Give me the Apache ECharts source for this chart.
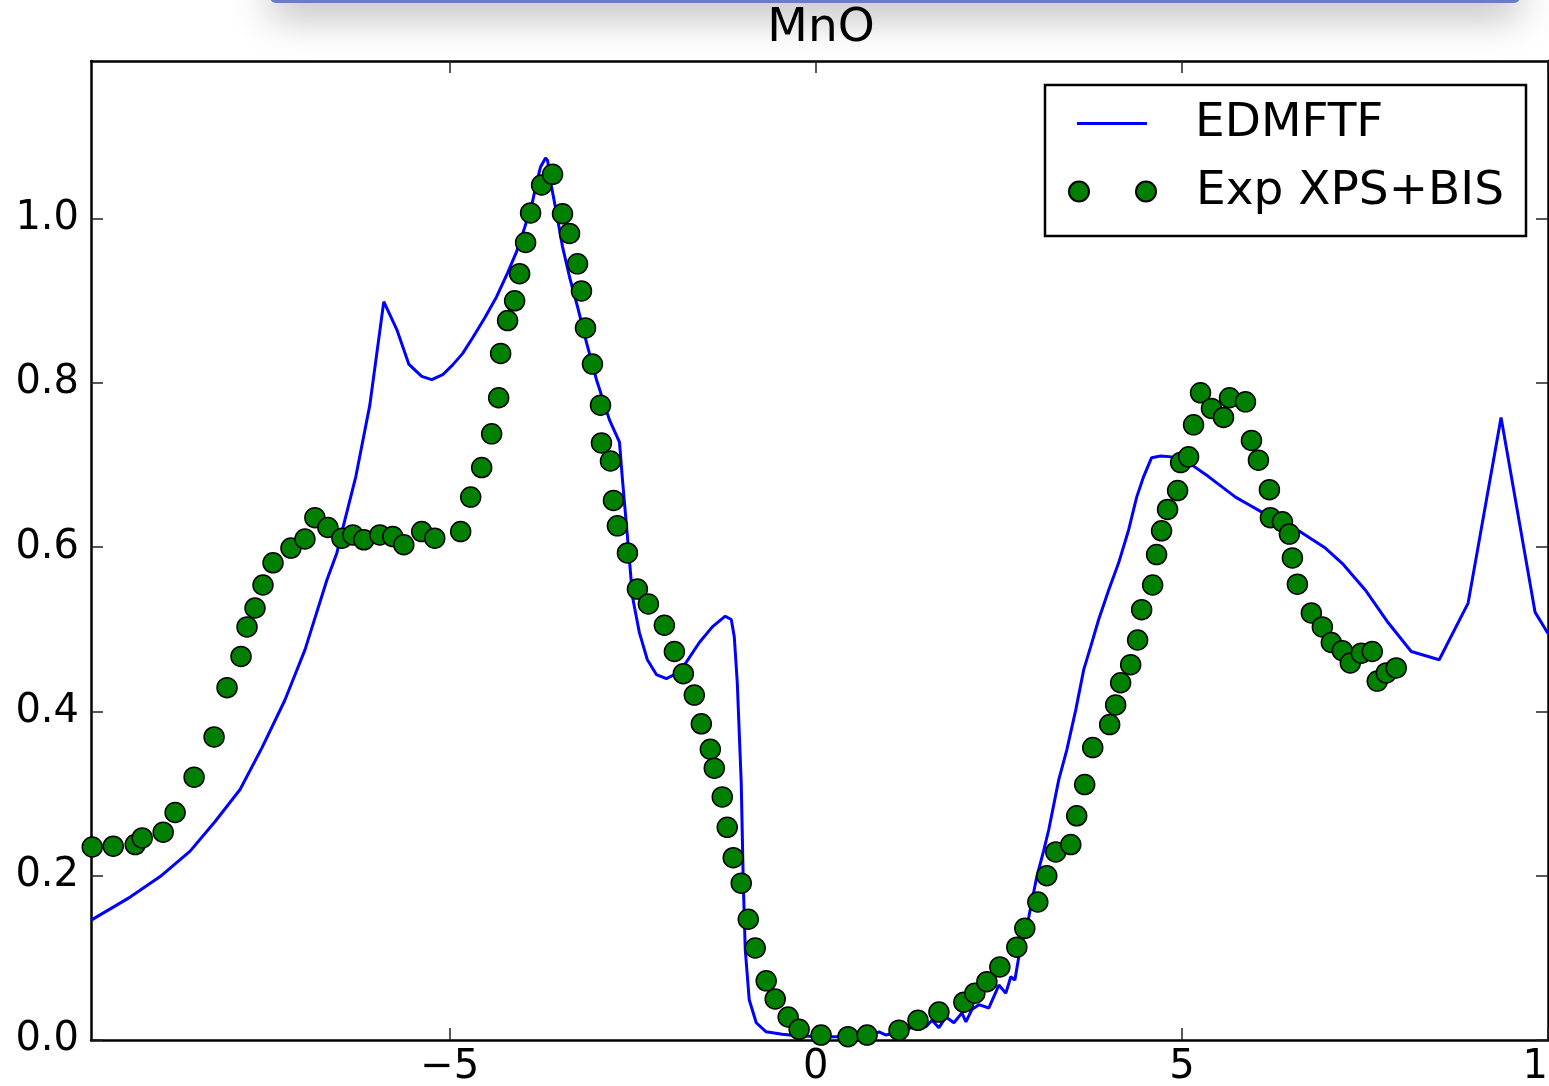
<!DOCTYPE html>
<html>
<head>
<meta charset="utf-8">
<title>MnO</title>
<script src="https://cdn.jsdelivr.net/npm/echarts@6/dist/echarts.min.js"></script>
<style>
  html, body { margin: 0; padding: 0; background: #fff; overflow: hidden; }
  #chart { width: 1549px; height: 1086px; }
</style>
</head>
<body>
<div id="chart"></div>
<script>
// EDMFTF theory curve
const edmftfX = [-9.897,-9.365,-8.955,-8.546,-8.205,-7.864,-7.564,-7.251,-6.978,-6.678,
  -6.542,-6.433,-6.283,-6.092,-5.901,-5.723,-5.560,-5.383,-5.246,-5.096,
  -4.960,-4.823,-4.687,-4.523,-4.360,-4.210,-4.087,-3.978,-3.869,-3.814,
  -3.760,-3.692,-3.664,-3.610,-3.542,-3.460,-3.364,-3.255,-3.132,-2.996,
  -2.819,-2.682,-2.641,-2.546,-2.505,-2.410,-2.301,-2.178,-2.041,-1.932,
  -1.769,-1.591,-1.414,-1.237,-1.155,-1.114,-1.073,-1.019,-0.991,-0.964,
  -0.910,-0.814,-0.678,-0.460,-0.228,0.222,0.727,0.863,0.959,1.136,
  1.313,1.504,1.586,1.681,1.777,1.886,1.995,2.050,2.131,2.227,
  2.363,2.472,2.500,2.595,2.663,2.718,2.772,2.909,3.018,3.113,
  3.181,3.318,3.427,3.550,3.659,3.754,3.863,4.000,4.136,4.272,
  4.382,4.477,4.586,4.709,4.859,5.091,5.363,5.732,5.909,6.086,
  6.359,6.632,6.959,7.204,7.504,7.818,8.132,8.514,8.909,9.359,
  9.823,10.0];
const edmftfY = [0.146,0.174,0.199,0.230,0.266,0.305,0.356,0.414,0.475,0.560,
  0.593,0.633,0.686,0.773,0.899,0.865,0.823,0.808,0.804,0.810,
  0.822,0.836,0.855,0.879,0.905,0.934,0.960,0.989,1.021,1.044,
  1.063,1.074,1.071,1.039,1.007,0.966,0.929,0.893,0.849,0.804,
  0.755,0.728,0.682,0.585,0.540,0.496,0.463,0.445,0.440,0.445,
  0.460,0.484,0.503,0.516,0.512,0.491,0.435,0.313,0.191,0.110,
  0.049,0.021,0.010,0.007,0.005,0.004,0.004,0.010,0.006,0.010,
  0.015,0.016,0.024,0.015,0.028,0.021,0.033,0.022,0.037,0.043,
  0.039,0.061,0.067,0.057,0.077,0.073,0.101,0.150,0.199,0.231,
  0.256,0.317,0.353,0.402,0.451,0.479,0.512,0.548,0.581,0.621,
  0.661,0.686,0.709,0.711,0.710,0.703,0.686,0.661,0.652,0.643,
  0.631,0.618,0.599,0.579,0.548,0.508,0.473,0.463,0.532,0.758,
  0.521,0.495];

// experimental XPS+BIS points
const expX = [-9.883,-9.596,-9.296,-9.201,-8.914,-8.751,-8.492,-8.219,-8.042,-7.851,
  -7.769,-7.660,-7.551,-7.414,-7.169,-6.978,-6.842,-6.664,-6.473,-6.323,
  -6.173,-5.955,-5.778,-5.628,-5.383,-5.205,-4.851,-4.714,-4.564,-4.428,
  -4.332,-4.305,-4.210,-4.114,-4.046,-3.964,-3.896,-3.746,-3.596,-3.460,
  -3.364,-3.255,-3.201,-3.146,-3.051,-2.941,-2.928,-2.805,-2.764,-2.710,
  -2.573,-2.437,-2.287,-2.069,-1.932,-1.810,-1.660,-1.564,-1.441,-1.387,
  -1.278,-1.210,-1.128,-1.019,-0.923,-0.828,-0.678,-0.555,-0.378,-0.228,
  0.072,0.440,0.700,1.136,1.395,1.681,2.022,2.172,2.336,2.513,
  2.745,2.854,3.032,3.154,3.277,3.482,3.563,3.672,3.782,4.013,
  4.095,4.163,4.300,4.395,4.450,4.600,4.654,4.722,4.804,4.941,
  4.982,5.091,5.159,5.254,5.404,5.568,5.650,5.868,5.950,6.045,
  6.195,6.209,6.373,6.468,6.509,6.577,6.768,6.918,7.041,7.191,
  7.300,7.450,7.600,7.668,7.791,7.927];
const expY = [0.235,0.236,0.238,0.246,0.253,0.277,0.320,0.369,0.429,0.467,
  0.503,0.526,0.554,0.581,0.599,0.610,0.636,0.624,0.611,0.615,
  0.609,0.615,0.613,0.603,0.619,0.611,0.619,0.661,0.697,0.738,
  0.782,0.836,0.876,0.900,0.933,0.971,1.007,1.041,1.054,1.006,
  0.982,0.945,0.912,0.867,0.823,0.773,0.727,0.705,0.657,0.626,
  0.593,0.549,0.531,0.505,0.473,0.446,0.420,0.385,0.354,0.331,
  0.296,0.259,0.222,0.191,0.147,0.112,0.072,0.050,0.028,0.013,
  0.006,0.004,0.006,0.012,0.024,0.034,0.046,0.057,0.071,0.089,
  0.113,0.136,0.168,0.200,0.229,0.238,0.273,0.311,0.356,0.384,
  0.408,0.435,0.457,0.487,0.524,0.554,0.591,0.620,0.646,0.669,
  0.703,0.710,0.749,0.788,0.769,0.758,0.782,0.777,0.730,0.706,
  0.670,0.636,0.631,0.616,0.587,0.555,0.520,0.503,0.484,0.474,
  0.459,0.471,0.473,0.437,0.447,0.453];

const xTicks = [-5, 0, 5, 10];
const yTicks = [0, 0.2, 0.4, 0.6, 0.8, 1.0];

const zip = (xs, ys) => xs.map((x, i) => [x, ys[i]]);
const font = "'DejaVu Sans', sans-serif";

const chart = echarts.init(document.getElementById("chart"), null, { renderer: "canvas" });

const frameLine = { show: true, onZero: false, lineStyle: { color: "#000", width: 2.5 } };
const tick = (vals) => ({
  show: true, inside: true, length: 12, customValues: vals,
  lineStyle: { color: "#222", width: 1.5 }
});

const option = {
  backgroundColor: "#fff",
  animation: false,
  title: {
    text: "MnO",
    left: 821,
    top: 5,
    padding: 0,
    textAlign: "center",
    textStyle: { fontFamily: font, fontSize: 47, fontWeight: "normal", color: "#000" }
  },
  grid: { left: 91, top: 61, width: 1457, height: 979, outerBoundsMode: "none", containLabel: false },
  xAxis: [
    {
      type: "value", min: -9.9, max: 10, position: "bottom",
      axisLine: frameLine, splitLine: { show: false },
      axisTick: tick(xTicks),
      axisLabel: {
        customValues: xTicks, margin: 8, fontFamily: font, fontSize: 40, color: "#000",
        formatter: (v) => (v < 0 ? "\u2212" + Math.abs(v) : String(v))
      }
    },
    {
      type: "value", min: -9.9, max: 10, position: "top",
      axisLine: frameLine, splitLine: { show: false },
      axisTick: tick(xTicks), axisLabel: { show: false }
    }
  ],
  yAxis: [
    {
      type: "value", min: 0, max: 1.192, position: "left",
      axisLine: frameLine, splitLine: { show: false },
      axisTick: tick(yTicks),
      axisLabel: {
        customValues: yTicks, margin: 12, fontFamily: font, fontSize: 40, color: "#000",
        formatter: (v) => v.toFixed(1)
      }
    },
    {
      type: "value", min: 0, max: 1.192, position: "right",
      axisLine: frameLine, splitLine: { show: false },
      axisTick: tick(yTicks), axisLabel: { show: false }
    }
  ],
  legend: [
    {
      data: [{ name: "EDMFTF", icon: "path://M0,0L70,0L70,3L0,3Z" }],
      left: 1077, top: 100, padding: 0, itemWidth: 70, itemHeight: 3,
      textStyle: { fontFamily: font, fontSize: 47, color: "#000", padding: [0, 0, 0, 43] },
      z: 6
    },
    {
      data: [{
        name: "Exp XPS+BIS",
        icon: "path://M0,10a10,10 0 1,0 20,0a10,10 0 1,0 -20,0M67,10a10,10 0 1,0 20,0a10,10 0 1,0 -20,0"
      }],
      left: 1068, top: 168, padding: 0, itemWidth: 87, itemHeight: 20,
      textStyle: { fontFamily: font, fontSize: 47, color: "#000", padding: [0, 0, 0, 35] },
      z: 6
    }
  ],
  graphic: [
    {
      type: "rect", z: 0,
      shape: { x: 270, y: -30, width: 1250, height: 33, r: 6 },
      style: {
        fill: "#6b7bc6",
        shadowColor: "rgba(0,0,0,0.3)", shadowBlur: 40, shadowOffsetY: 12
      }
    },
    {
      type: "rect", z: 5,
      shape: { x: 1045, y: 85, width: 481, height: 151 },
      style: { fill: "#fff", stroke: "#000", lineWidth: 2.5 }
    }
  ],
  series: [
    {
      name: "EDMFTF",
      type: "line",
      data: zip(edmftfX, edmftfY),
      showSymbol: false,
      symbol: "none",
      lineStyle: { color: "#0000ff", width: 3 },
      itemStyle: { color: "#0000ff" },
      z: 2
    },
    {
      name: "Exp XPS+BIS",
      type: "scatter",
      data: zip(expX, expY),
      symbol: "circle",
      symbolSize: 20,
      itemStyle: { color: "#008000", borderColor: "#000", borderWidth: 1.5, opacity: 1 },
      z: 3
    }
  ]
};

chart.setOption(option);
</script>
</body>
</html>
